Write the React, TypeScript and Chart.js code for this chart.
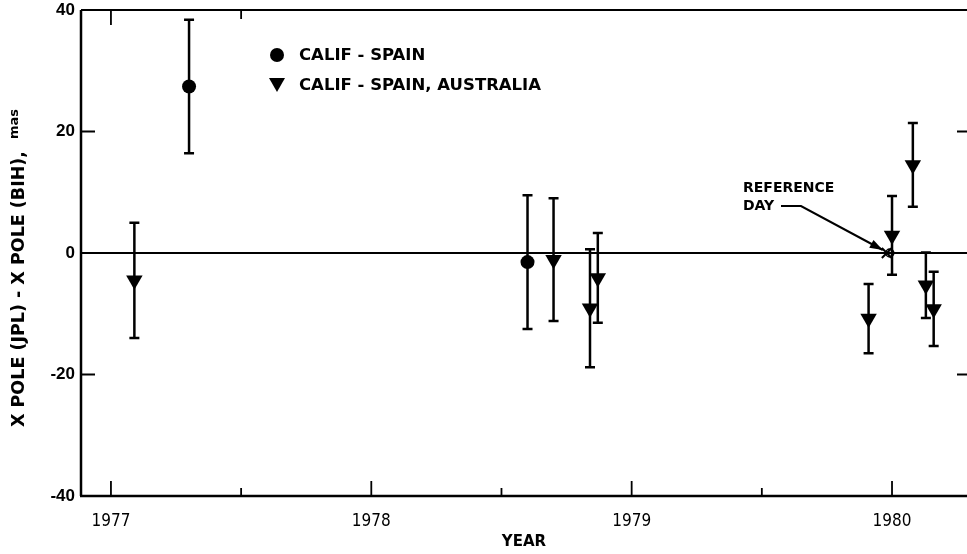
import React, { useEffect, useRef } from "react";
import { Chart, registerables } from "chart.js";

Chart.register(...registerables);

// ---- data ----
const yearTicks = [1977, 1978, 1979, 1980];
const halfYearTicks = [1977.5, 1978.5, 1979.5];
const valueTicks = [-40, -20, 0, 20, 40];

// CALIF - SPAIN (circles)
const csYears = [1977.3, 1978.6];
const csValues = [27.4, -1.5];
const csErrors = [11.0, 11.0];

// CALIF - SPAIN, AUSTRALIA (down triangles)
const csaYears = [1977.09, 1978.7, 1978.84, 1978.87, 1979.91, 1980.0, 1980.08, 1980.13, 1980.16];
const csaValues = [-4.5, -1.1, -9.1, -4.1, -10.8, 2.9, 14.5, -5.3, -9.2];
const csaErrors = [9.5, 10.1, 9.7, 7.4, 5.7, 6.5, 6.9, 5.4, 6.1];

// reference day
const refYears = [1979.98];
const refValues = [0];

const legendLabels = ["CALIF - SPAIN", "CALIF - SPAIN, AUSTRALIA"];
const yTitle = "X POLE (JPL) - X POLE (BIH),";
const yTitleUnit = "mas";
const xTitle = "YEAR";
const refLabel = ["REFERENCE", "DAY"];

const SANS = "'DejaVu Sans', sans-serif";
const COND = "'DejaVu Sans Condensed', 'DejaVu Sans', sans-serif";

const errorSets = [
  { xs: csYears, ys: csValues, es: csErrors },
  { xs: csaYears, ys: csaValues, es: csErrors.length ? csaErrors : csaErrors },
];

const decorPlugin = {
  id: "decor",
  beforeDatasetsDraw(chart: any) {
    const ctx = chart.ctx as CanvasRenderingContext2D;
    const x = chart.scales.x;
    const y = chart.scales.y;
    const a = chart.chartArea;
    ctx.save();
    ctx.strokeStyle = "#000";
    ctx.fillStyle = "#000";
    ctx.lineCap = "butt";

    // frame
    ctx.lineWidth = 2.5;
    ctx.beginPath();
    ctx.moveTo(a.left, a.top);
    ctx.lineTo(a.left, a.bottom);
    ctx.moveTo(a.left - 1, a.bottom);
    ctx.lineTo(a.right, a.bottom);
    ctx.stroke();
    ctx.lineWidth = 2;
    ctx.beginPath();
    ctx.moveTo(a.left, a.top);
    ctx.lineTo(a.right, a.top);
    ctx.stroke();

    // zero line
    const y0 = y.getPixelForValue(0);
    ctx.lineWidth = 2;
    ctx.beginPath();
    ctx.moveTo(a.left, y0);
    ctx.lineTo(a.right, y0);
    ctx.stroke();

    // bottom ticks (inward)
    ctx.lineWidth = 1.8;
    ctx.beginPath();
    yearTicks.forEach((v) => {
      const px = x.getPixelForValue(v);
      ctx.moveTo(px, a.bottom);
      ctx.lineTo(px, a.bottom - 15);
    });
    halfYearTicks.forEach((v) => {
      const px = x.getPixelForValue(v);
      ctx.moveTo(px, a.bottom);
      ctx.lineTo(px, a.bottom - 8);
    });
    // top ticks
    const tx1 = x.getPixelForValue(yearTicks[0]);
    ctx.moveTo(tx1, a.top);
    ctx.lineTo(tx1, a.top + 15);
    const tx2 = x.getPixelForValue(halfYearTicks[0]);
    ctx.moveTo(tx2, a.top);
    ctx.lineTo(tx2, a.top + 9);
    // left & right ticks
    [20, -20].forEach((v) => {
      const py = y.getPixelForValue(v);
      ctx.moveTo(a.left, py);
      ctx.lineTo(a.left + 14, py);
      ctx.moveTo(a.right, py);
      ctx.lineTo(a.right - 10, py);
    });
    ctx.stroke();

    // error bars
    ctx.lineWidth = 2.5;
    errorSets.forEach((s) => {
      s.xs.forEach((xv, i) => {
        const px = x.getPixelForValue(xv);
        const top = y.getPixelForValue(s.ys[i] + s.es[i]);
        const bot = y.getPixelForValue(s.ys[i] - s.es[i]);
        ctx.beginPath();
        ctx.moveTo(px, top);
        ctx.lineTo(px, bot);
        ctx.moveTo(px - 5, top);
        ctx.lineTo(px + 5, top);
        ctx.moveTo(px - 5, bot);
        ctx.lineTo(px + 5, bot);
        ctx.stroke();
      });
    });
    ctx.restore();
  },
  afterDatasetsDraw(chart: any) {
    const ctx = chart.ctx as CanvasRenderingContext2D;
    const x = chart.scales.x;
    const y = chart.scales.y;
    ctx.save();
    ctx.fillStyle = "#000";
    ctx.strokeStyle = "#000";

    // legend
    ctx.beginPath();
    ctx.arc(277, 55, 7, 0, Math.PI * 2);
    ctx.fill();
    ctx.beginPath();
    ctx.moveTo(269, 78);
    ctx.lineTo(285, 78);
    ctx.lineTo(277, 92);
    ctx.closePath();
    ctx.fill();
    ctx.font = "bold 16.5px " + SANS;
    ctx.textBaseline = "middle";
    ctx.textAlign = "left";
    ctx.fillText(legendLabels[0], 299, 56);
    ctx.fillText(legendLabels[1], 299, 86);

    // reference day annotation
    ctx.font = "bold 14px " + SANS;
    ctx.fillText(refLabel[0], 743, 188);
    ctx.fillText(refLabel[1], 743, 206);
    const rx = x.getPixelForValue(refYears[0]);
    const ry = y.getPixelForValue(refValues[0]);
    const tipX = rx - 4;
    const tipY = ry - 3;
    const sx = 801;
    const sy = 206;
    ctx.lineWidth = 2;
    ctx.beginPath();
    ctx.moveTo(781, 206);
    ctx.lineTo(sx, sy);
    ctx.lineTo(tipX, tipY);
    ctx.stroke();
    const ang = Math.atan2(tipY - sy, tipX - sx);
    const hl = 13;
    const hw = 4.5;
    ctx.beginPath();
    ctx.moveTo(tipX, tipY);
    ctx.lineTo(tipX - hl * Math.cos(ang) + hw * Math.sin(ang), tipY - hl * Math.sin(ang) - hw * Math.cos(ang));
    ctx.lineTo(tipX - hl * Math.cos(ang) - hw * Math.sin(ang), tipY - hl * Math.sin(ang) + hw * Math.cos(ang));
    ctx.closePath();
    ctx.fill();
    // small open circle at reference point
    ctx.lineWidth = 1.5;
    ctx.beginPath();
    ctx.arc(rx + 3, ry, 4, 0, Math.PI * 2);
    ctx.stroke();

    // y title
    ctx.translate(19, 268);
    ctx.rotate(-Math.PI / 2);
    const f1 = "bold 17.5px " + SANS;
    const f2 = "bold 13px " + SANS;
    ctx.textAlign = "left";
    ctx.textBaseline = "middle";
    ctx.font = f1;
    const w1 = ctx.measureText(yTitle).width;
    ctx.font = f2;
    const w2 = ctx.measureText(yTitleUnit).width;
    const gap = 12;
    const total = w1 + gap + w2;
    ctx.font = f1;
    ctx.fillText(yTitle, -total / 2, 0);
    ctx.font = f2;
    ctx.fillText(yTitleUnit, -total / 2 + w1 + gap, -4);
    ctx.restore();
  },
};

export default function App() {
  const ref = useRef<HTMLCanvasElement | null>(null);
  useEffect(() => {
    if (!ref.current) return;
    const chart = new Chart(ref.current, {
      type: "scatter",
      data: {
        datasets: [
          {
            label: legendLabels[0],
            data: csYears.map((v, i) => ({ x: v, y: csValues[i] })),
            pointStyle: "circle",
            pointRadius: 7,
            backgroundColor: "#000",
            borderColor: "#000",
            borderWidth: 0,
          },
          {
            label: legendLabels[1],
            data: csaYears.map((v, i) => ({ x: v, y: csaValues[i] })),
            pointStyle: "triangle",
            rotation: 180,
            pointRadius: 9.5,
            backgroundColor: "#000",
            borderColor: "#000",
            borderWidth: 0,
          },
          {
            label: "REFERENCE DAY",
            data: refYears.map((v, i) => ({ x: v, y: refValues[i] })),
            pointStyle: "crossRot",
            pointRadius: 7,
            borderColor: "#000",
            borderWidth: 2,
          },
        ],
      },
      options: {
        animation: false,
        responsive: false,
        maintainAspectRatio: false,
        devicePixelRatio: 1,
        layout: { padding: { top: 10, right: 0, left: 0, bottom: 0 }, autoPadding: false },
        plugins: { legend: { display: false }, tooltip: { enabled: false } },
        scales: {
          x: {
            type: "linear",
            min: 1976.885,
            max: 1980.288,
            grid: { display: false, drawTicks: false },
            border: { display: false },
            afterBuildTicks: (s: any) => {
              s.ticks = yearTicks.map((v) => ({ value: v }));
            },
            afterFit: (s: any) => {
              s.height = 58;
              s.paddingLeft = 0;
              s.paddingRight = 0;
              s.paddingTop = 0;
              s.paddingBottom = 0;
            },
            ticks: {
              padding: 15,
              color: "#000",
              font: { family: COND, size: 17 },
              maxRotation: 0,
              autoSkip: false,
              callback: (v: any) => String(v),
            },
            title: {
              display: true,
              text: xTitle,
              color: "#000",
              font: { family: SANS, size: 15, weight: "bold" },
              padding: { top: 0, bottom: 3 },
            },
          },
          y: {
            type: "linear",
            min: -40,
            max: 40,
            grid: { display: false, drawTicks: false },
            border: { display: false },
            afterBuildTicks: (s: any) => {
              s.ticks = valueTicks.map((v) => ({ value: v }));
            },
            afterFit: (s: any) => {
              s.width = 81;
              s.paddingLeft = 0;
              s.paddingRight = 0;
              s.paddingTop = 0;
              s.paddingBottom = 0;
            },
            ticks: {
              padding: 6,
              color: "#000",
              font: { family: "'Liberation Sans', Arial, sans-serif", size: 17, weight: "bold" },
              callback: (v: any) => String(v),
            },
          },
        },
      },
      plugins: [decorPlugin],
    } as any);
    return () => chart.destroy();
  }, []);
  return (
    <div style={{ position: "absolute", left: 0, top: 0, width: 967, height: 554, background: "#fff" }}>
      <canvas ref={ref} width={967} height={554} style={{ display: "block" }} />
    </div>
  );
}
